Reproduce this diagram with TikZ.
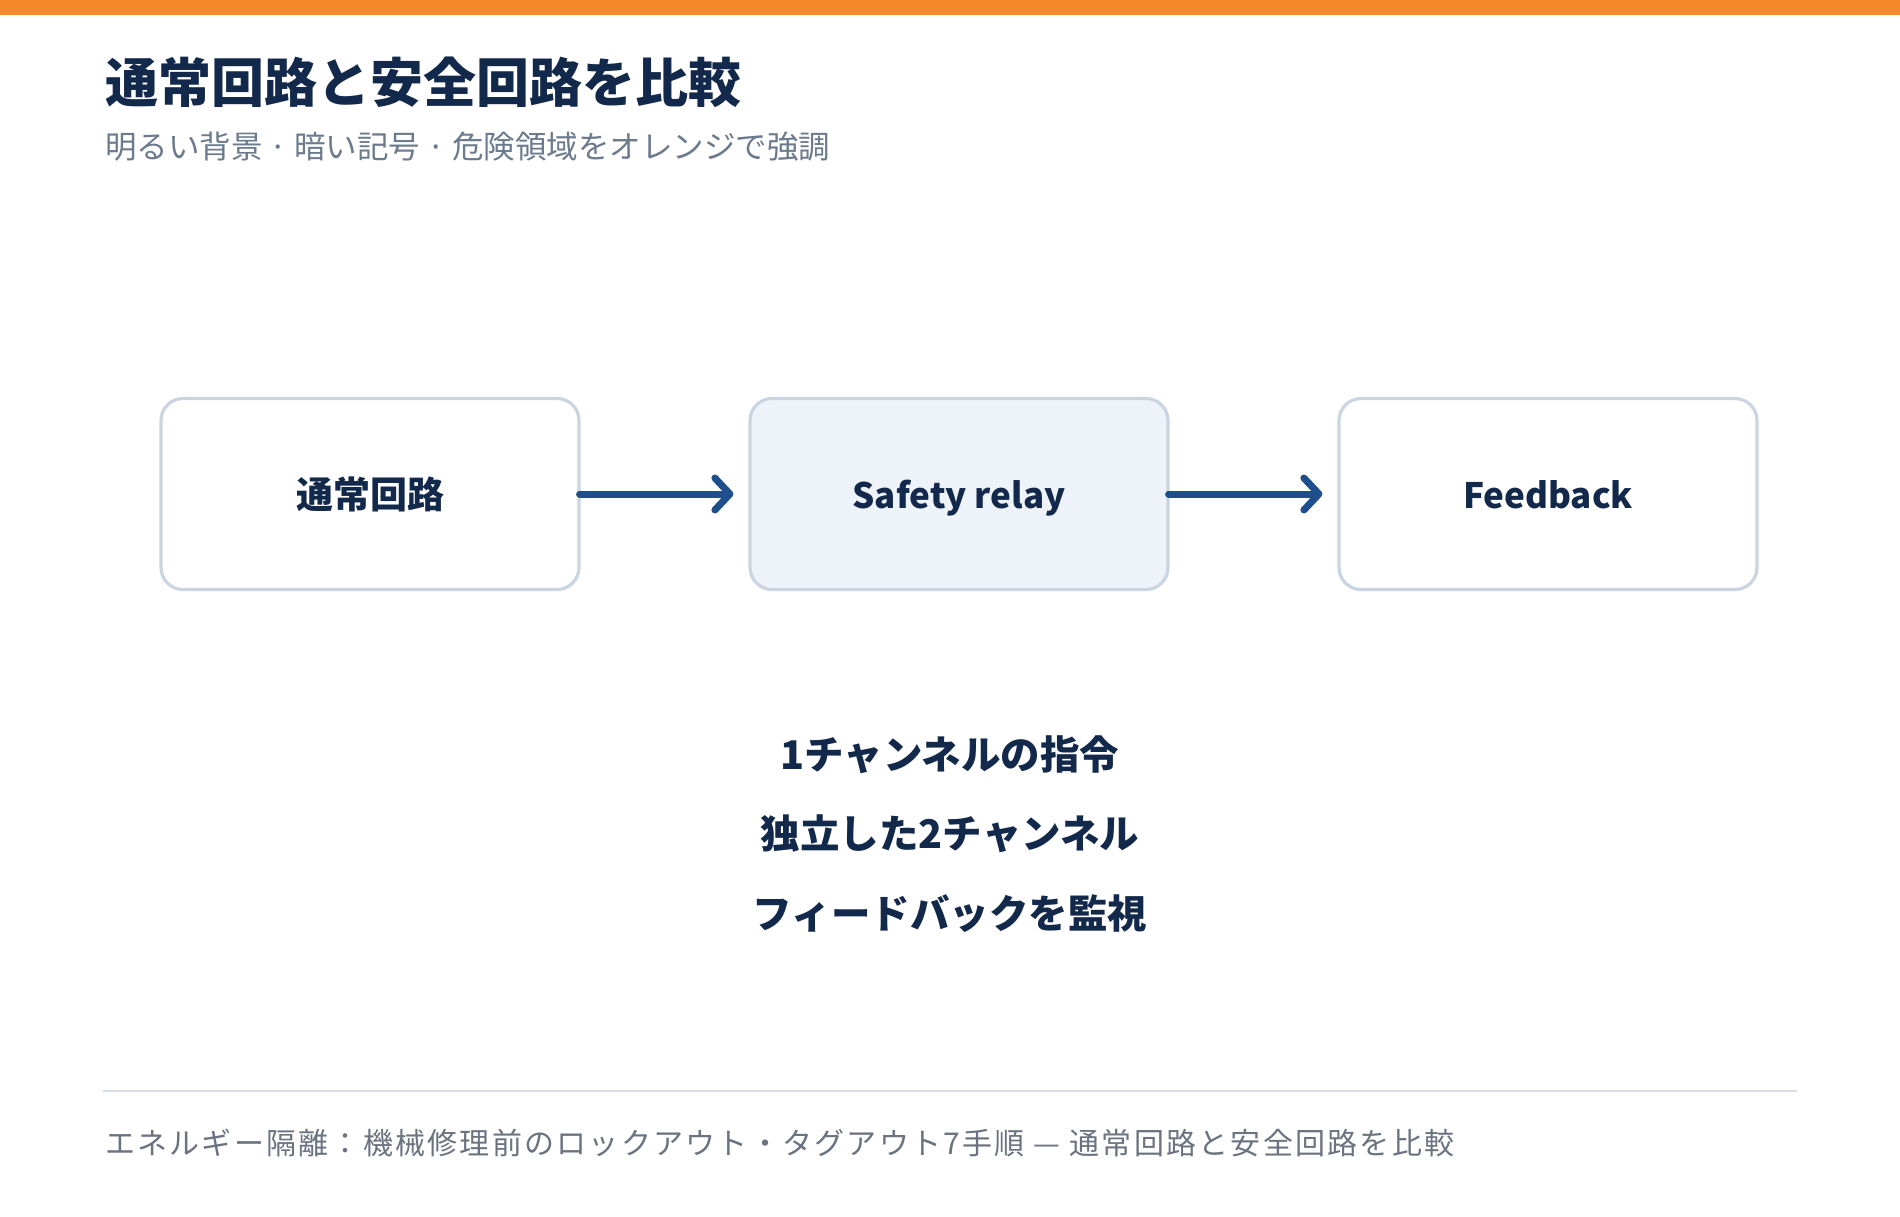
\documentclass[tikz,border=0pt]{standalone}
\usepackage{fontspec}
\setmainfont{Noto Sans CJK JP}
\usetikzlibrary{arrows.meta}
\definecolor{barorange}{HTML}{F5882A}
\definecolor{navy}{HTML}{13294B}
\definecolor{subgray}{HTML}{6B7A8C}
\definecolor{footgray}{HTML}{6B7280}
\definecolor{boxborder}{HTML}{CBD5E1}
\definecolor{boxfill}{HTML}{EEF3F9}
\definecolor{arrowblue}{HTML}{1F4E8C}
\definecolor{rulegray}{HTML}{D5DBE3}
\tikzset{
  stagebox/.style={draw=boxborder, line width=3.2pt, rounded corners=22pt,
    minimum width=418pt, minimum height=191pt, inner sep=0pt,
    text height=32.5pt, text depth=4.5pt,
    font=\fontsize{37}{40}\selectfont\bfseries, text=navy},
  latinlabel/.style={font=\fontsize{35}{40}\selectfont\bfseries,
    text height=28.5pt, text depth=0pt},
  flowarrow/.style={draw=arrowblue, line width=7pt, line cap=round,
    -{Straight Barb[length=15pt, width=32pt, line cap=round, line join=round]}},
  noteline/.style={font=\fontsize{39.5}{44}\selectfont\bfseries, text=navy, inner sep=0pt}
}
\begin{document}
\begin{tikzpicture}[x=1pt,y=-1pt]
  \fill[white] (0,0) rectangle (1900,1216);
  \useasboundingbox (0,0) rectangle (1900,1216);
  \fill[barorange] (0,0) rectangle (1900,15);
  \node[anchor=west, inner sep=0pt, text=navy, font=\fontsize{53}{60}\selectfont\bfseries] (title) at (105,82) {通常回路と安全回路を比較};
  \node[anchor=west, inner sep=0pt, text=subgray, font=\fontsize{31.5}{36}\selectfont] (subtitle) at (105,147) {明るい背景 · 暗い記号 · 危険領域をオレンジで強調};
  \node[stagebox, fill=white] (normal) at (370,494) {通常回路};
  \node[stagebox, latinlabel, fill=boxfill] (relay) at (959,494) {Safety relay};
  \node[stagebox, latinlabel, fill=white] (feedback) at (1548,494) {Feedback};
  \draw[flowarrow] ([xshift=-1pt]normal.east) -- ([xshift=-15pt]relay.west);
  \draw[flowarrow] ([xshift=-1pt]relay.east) -- ([xshift=-15pt]feedback.west);
  \node[noteline] (n1) at (950,755) {1チャンネルの指令};
  \node[noteline] (n2) at (950,834) {独立した2チャンネル};
  \node[noteline] (n3) at (950,914) {フィードバックを監視};
  \coordinate (ruleL) at (103,1091);
  \coordinate (ruleR) at (1797,1091);
  \draw[rulegray, line width=2pt] (ruleL) -- (ruleR);
  \node[anchor=west, inner sep=0pt, text=footgray, font=\fontsize{30}{34}\selectfont\addfontfeatures{LetterSpace=7.5}] (footer) at (105,1143) {エネルギー隔離：機械修理前のロックアウト・タグアウト7手順 — 通常回路と安全回路を比較};
\end{tikzpicture}
\end{document}
